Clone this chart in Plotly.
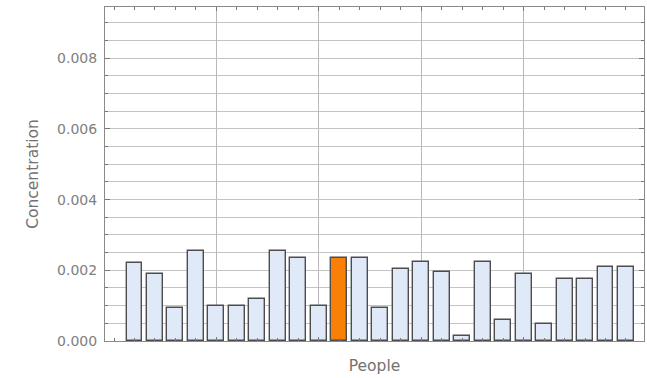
import plotly.graph_objects as go

# Concentration measured for each person (25 people)
people = list(range(1, 26))
concentration = [
    0.00220, 0.00190, 0.00093, 0.00254, 0.00098,
    0.00098, 0.00118, 0.00254, 0.00234, 0.00098,
    0.00234, 0.00234, 0.00093, 0.00205, 0.00224,
    0.00195, 0.00014, 0.00224, 0.00059, 0.00190,
    0.00048, 0.00175, 0.00175, 0.00209, 0.00209,
]
highlighted_person = 11

y_ticks = [0.000, 0.002, 0.004, 0.006, 0.008]
x_grid = [5, 10, 15, 20]

base_fill = "#dfe9f8"
hi_fill = "#f97f06"
fills = [hi_fill if p == highlighted_person else base_fill for p in people]

fig = go.Figure(
    go.Bar(
        x=people,
        y=concentration,
        width=0.78,
        marker=dict(color=fills, line=dict(color="#4d4d4d", width=1.4)),
    )
)

font_family = "DejaVu Sans, Verdana, sans-serif"
tick_font = dict(family=font_family, size=14, color="#808080")
title_font = dict(family=font_family, size=15.5, color="#727272")

fig.update_layout(
    width=647,
    height=378,
    margin=dict(l=105, r=3, t=7, b=37),
    paper_bgcolor="white",
    plot_bgcolor="white",
    showlegend=False,
    bargap=0,
)

fig.update_xaxes(
    range=[-0.44, 25.88],
    tickmode="array",
    tickvals=x_grid,
    showticklabels=False,
    ticks="inside",
    ticklen=4,
    tickcolor="#777777",
    showgrid=True,
    gridcolor="#b8b8b8",
    gridwidth=1,
    zeroline=False,
    showline=True,
    linecolor="#8a8a8a",
    linewidth=1,
    mirror="allticks",
    minor=dict(tick0=0, dtick=1, ticks="inside", ticklen=3, tickcolor="#777777", showgrid=False),
    title=dict(text="People", font=title_font, standoff=19),
)

fig.update_yaxes(
    range=[0, 0.00945],
    tickmode="array",
    tickvals=y_ticks,
    tickformat=".3f",
    tickfont=tick_font,
    ticklabelstandoff=4,
    ticks="inside",
    ticklen=5,
    tickcolor="#777777",
    showgrid=True,
    gridcolor="#c4c4c4",
    gridwidth=1,
    zeroline=False,
    showline=True,
    linecolor="#8a8a8a",
    linewidth=1,
    mirror="allticks",
    minor=dict(tick0=0, dtick=0.0005, ticks="inside", ticklen=3, tickcolor="#777777",
               showgrid=True, gridcolor="#c4c4c4", gridwidth=1),
    title=dict(text="Concentration", font=title_font, standoff=14),
)

fig.write_html("out.html")
